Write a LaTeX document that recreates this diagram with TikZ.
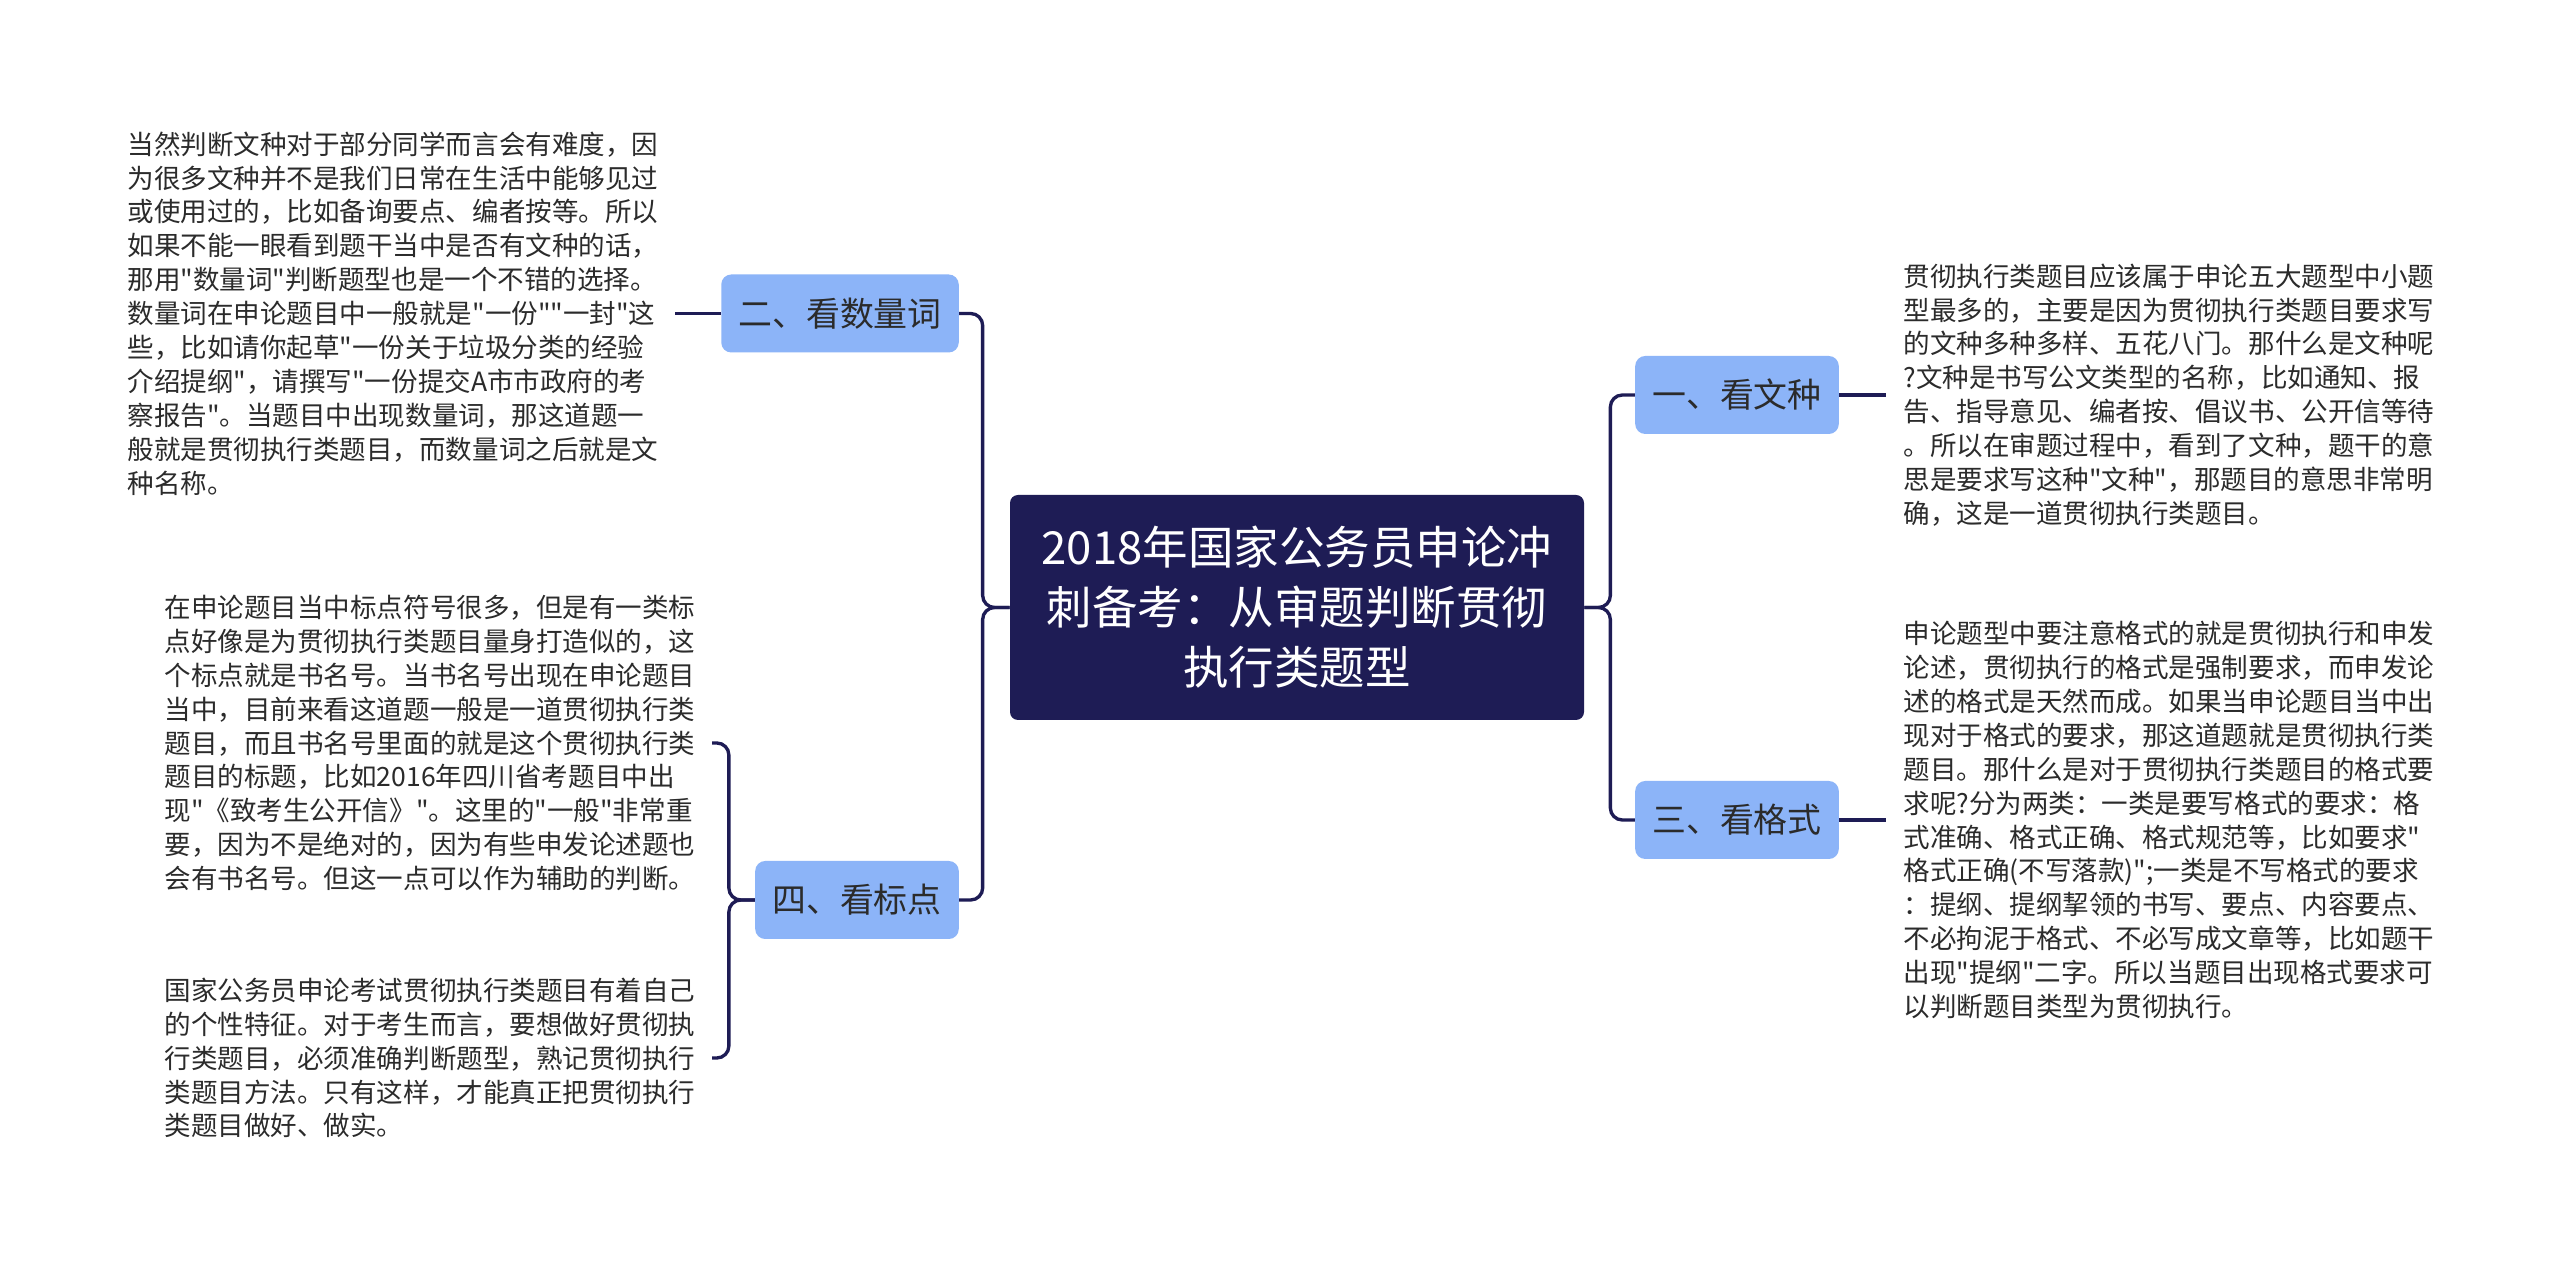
\documentclass[tikz,border=0pt]{standalone}
\usepackage{fontspec}
\newfontfamily\cjkfont{Noto Sans CJK SC}
\usetikzlibrary{positioning}
\definecolor{navy}{HTML}{1E1C55}
\definecolor{branchblue}{HTML}{8CB4F8}
\definecolor{inkgray}{HTML}{2B2B2B}

\begin{document}
\begin{tikzpicture}[
  root/.style={fill=navy, text=white, rounded corners=0.16cm, minimum width=11.48cm,
    minimum height=4.5cm, align=center, font=\cjkfont\fontsize{25.9pt}{34.2pt}\selectfont},
  branch/.style={fill=branchblue, text=inkgray, rounded corners=0.2cm, inner xsep=0.34cm,
    minimum height=1.56cm, font=\cjkfont\fontsize{19.3pt}{23pt}\selectfont},
  leaf/.style={text=inkgray, text width=10.6cm, align=left, inner xsep=0.34cm,
    font=\cjkfont\fontsize{15.1pt}{19.3pt}\selectfont},
  link/.style={draw=navy, line width=1.9pt, rounded corners=0.24cm}
]
  \useasboundingbox[fill=white] (0,0) rectangle (51.2,25.48);

  % centre and main branches
  \node[root] (root) at (25.94,13.33) {2018年国家公务员申论冲\\刺备考：从审题判断贯彻\\执行类题型};
  \node[branch] (kanwenzhong) at (34.74,17.58) {一、看文种};
  \node[branch] (kanliangci) at (16.8,19.21) {二、看数量词};
  \node[branch] (kangeshi) at (34.74,9.08) {三、看格式};
  \node[branch] (kanbiaodian) at (17.14,7.48) {四、看标点};

  % leaves
  \node[leaf, right=0.94cm of kanwenzhong] (wenzhongtxt) {贯彻执行类题目应该属于申论五大题型中小题\\
    型最多的，主要是因为贯彻执行类题目要求写\\
    的文种多种多样、五花八门。那什么是文种呢\\
    ?文种是书写公文类型的名称，比如通知、报\\
    告、指导意见、编者按、倡议书、公开信等待\\
    。所以在审题过程中，看到了文种，题干的意\\
    思是要求写这种"文种"，那题目的意思非常明\\
    确，这是一道贯彻执行类题目。};
  \node[leaf, left=0.92cm of kanliangci] (liangcitxt) {当然判断文种对于部分同学而言会有难度，因\\
    为很多文种并不是我们日常在生活中能够见过\\
    或使用过的，比如备询要点、编者按等。所以\\
    如果不能一眼看到题干当中是否有文种的话，\\
    那用"数量词"判断题型也是一个不错的选择。\\
    数量词在申论题目中一般就是"一份""一封"这\\
    些，比如请你起草"一份关于垃圾分类的经验\\
    介绍提纲"，请撰写"一份提交A市市政府的考\\
    察报告"。当题目中出现数量词，那这道题一\\
    般就是贯彻执行类题目，而数量词之后就是文\\
    种名称。};
  \node[leaf, right=0.94cm of kangeshi] (geshitxt) {申论题型中要注意格式的就是贯彻执行和申发\\
    论述，贯彻执行的格式是强制要求，而申发论\\
    述的格式是天然而成。如果当申论题目当中出\\
    现对于格式的要求，那这道题就是贯彻执行类\\
    题目。那什么是对于贯彻执行类题目的格式要\\
    求呢?分为两类：一类是要写格式的要求：格\\
    式准确、格式正确、格式规范等，比如要求"\\
    格式正确(不写落款)";一类是不写格式的要求\\
    ：提纲、提纲挈领的书写、要点、内容要点、\\
    不必拘泥于格式、不必写成文章等，比如题干\\
    出现"提纲"二字。所以当题目出现格式要求可\\
    以判断题目类型为贯彻执行。};
  \node[leaf, anchor=east] (biaodiantxt) at (14.24,10.62) {在申论题目当中标点符号很多，但是有一类标\\
    点好像是为贯彻执行类题目量身打造似的，这\\
    个标点就是书名号。当书名号出现在申论题目\\
    当中，目前来看这道题一般是一道贯彻执行类\\
    题目，而且书名号里面的就是这个贯彻执行类\\
    题目的标题，比如2016年四川省考题目中出\\
    现"《致考生公开信》"。这里的"一般"非常重\\
    要，因为不是绝对的，因为有些申发论述题也\\
    会有书名号。但这一点可以作为辅助的判断。};
  \node[leaf, anchor=east] (gexingtxt) at (14.24,4.32) {国家公务员申论考试贯彻执行类题目有着自己\\
    的个性特征。对于考生而言，要想做好贯彻执\\
    行类题目，必须准确判断题型，熟记贯彻执行\\
    类题目方法。只有这样，才能真正把贯彻执行\\
    类题目做好、做实。};

  % connectors
  \draw[link] (root.east) -- ++(0.52,0) |- (kanwenzhong.west);
  \draw[link] (root.east) -- ++(0.52,0) |- (kangeshi.west);
  \draw[link] (root.west) -- ++(-0.54,0) |- (kanliangci.east);
  \draw[link] (root.west) -- ++(-0.54,0) |- (kanbiaodian.east);
  \draw[link] (kanwenzhong.east) -- (wenzhongtxt.west);
  \draw[link] (kangeshi.east) -- (geshitxt.west);
  \draw[link] (kanliangci.west) -- (liangcitxt.east);
  \draw[link] (kanbiaodian.west) -- ++(-0.52,0) |- (biaodiantxt.east);
  \draw[link] (kanbiaodian.west) -- ++(-0.52,0) |- (gexingtxt.east);
\end{tikzpicture}
\end{document}
